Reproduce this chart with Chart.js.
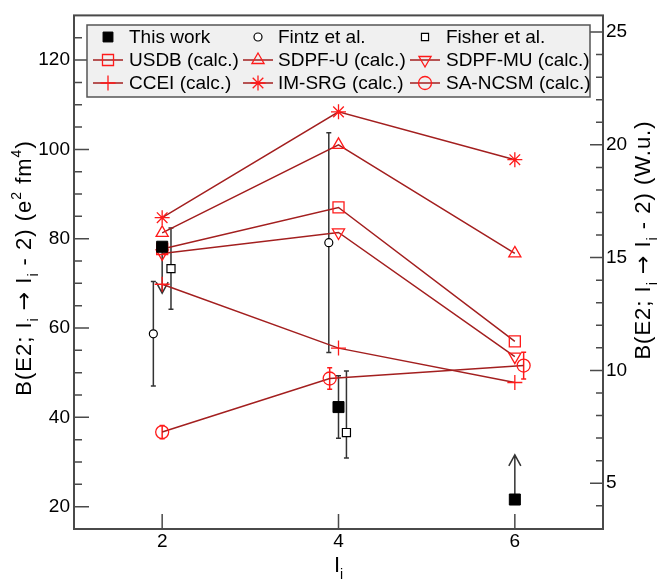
<!DOCTYPE html>
<html>
<head>
<meta charset="utf-8">
<script src="https://cdn.jsdelivr.net/npm/chart.js@4.4.0/dist/chart.umd.min.js"></script>
<style>
html, body { margin: 0; padding: 0; background: #fff; }
</style>
</head>
<body>
<canvas id="b2chart" width="658" height="580"></canvas>
<script>
// axis ticks
var spinTicks = [2, 4, 6];
var leftTicks = [20, 40, 60, 80, 100, 120];
var rightTicks = [5, 10, 15, 20, 25];
var wuFactor = 5.051; // 1 W.u. in e^2 fm^4 (A = 28)

// experiment, B(E2) in e^2 fm^4
var thisWorkX = [2, 4, 6];
var thisWorkY = [78.2, 42.3, 21.6];
var thisWorkErr = [0, 7.0, 0];
var thisWorkLimit = [67.8, null, 31.6]; // arrow tips for the limits

var fintzX = [1.9, 3.89];
var fintzY = [58.7, 79.1];
var fintzErr = [11.7, 24.6];

var fisherX = [2.1, 4.09];
var fisherY = [73.3, 36.6];
var fisherErrUp = [9.1, 13.8];
var fisherErrDown = [9.1, 5.7];

// calculations
var calcX = [2, 4, 6];
var usdbY = [77.7, 87.0, 57.0];
var sdpfuY = [81.3, 101.0, 76.7];
var sdpfmuY = [76.7, 81.4, 53.6];
var cceiY = [69.8, 55.5, 47.8];
var imsrgY = [84.7, 108.4, 97.7];
var sancsmX = [2, 3.9, 6.1];
var sancsmY = [36.7, 48.7, 51.6];
var sancsmErr = [1.5, 2.4, 3.0];

var FONT = "'Liberation Sans', Arial, sans-serif";
var lineRed = '#a31f1f';
var markRed = '#ff1a1a';

function pts(xs, ys) {
  return xs.map(function (x, i) { return { x: x, y: ys[i] }; });
}

function calcSet(label, ys, style, radius, rotation, xs) {
  return {
    label: label,
    data: pts(xs || calcX, ys),
    showLine: true,
    borderColor: lineRed,
    borderWidth: 1.5,
    pointStyle: style,
    pointRadius: radius,
    pointRotation: rotation || 0,
    pointBackgroundColor: 'rgba(0,0,0,0)',
    pointBorderColor: markRed,
    pointBorderWidth: 1.3
  };
}

var datasets = [
  {
    label: 'This work', data: pts(thisWorkX, thisWorkY), showLine: false,
    pointStyle: 'rect', pointRadius: 7.8, pointBackgroundColor: '#000',
    pointBorderColor: '#000', pointBorderWidth: 1,
    errUp: thisWorkErr, errDown: thisWorkErr, limitTo: thisWorkLimit, errColor: '#333'
  },
  {
    label: 'Fintz et al.', data: pts(fintzX, fintzY), showLine: false,
    pointStyle: 'circle', pointRadius: 4, pointBackgroundColor: '#fff',
    pointBorderColor: '#000', pointBorderWidth: 1.2,
    errUp: fintzErr, errDown: fintzErr, errColor: '#333'
  },
  {
    label: 'Fisher et al.', data: pts(fisherX, fisherY), showLine: false,
    pointStyle: 'rect', pointRadius: 5.7, pointBackgroundColor: '#fff',
    pointBorderColor: '#000', pointBorderWidth: 1.2,
    errUp: fisherErrUp, errDown: fisherErrDown, errColor: '#333'
  },
  calcSet('USDB (calc.)', usdbY, 'rect', 7.8),
  calcSet('SDPF-U (calc.)', sdpfuY, 'triangle', 7),
  calcSet('SDPF-MU (calc.)', sdpfmuY, 'triangle', 7, 180),
  calcSet('CCEI (calc.)', cceiY, 'cross', 7.5),
  calcSet('IM-SRG (calc.)', imsrgY, 'star', 7.5),
  calcSet('SA-NCSM (calc.)', sancsmY, 'circle', 6.5, 0, sancsmX)
];
datasets[8].errUp = sancsmErr;
datasets[8].errDown = sancsmErr;
datasets[8].errColor = markRed;

// error bars and limit arrows, drawn under the markers
var errorBars = {
  id: 'errorBars',
  beforeDatasetsDraw: function (chart) {
    var ctx = chart.ctx, xs = chart.scales.x, ys = chart.scales.y;
    chart.data.datasets.forEach(function (ds) {
      if (!ds.errUp && !ds.limitTo) return;
      ctx.save();
      ctx.strokeStyle = ds.errColor;
      ctx.lineWidth = 1.5;
      ds.data.forEach(function (p, i) {
        var px = xs.getPixelForValue(p.x);
        var py = ys.getPixelForValue(p.y);
        ctx.beginPath();
        if (ds.errUp && ds.errUp[i]) {
          var top = ys.getPixelForValue(p.y + ds.errUp[i]);
          var bot = ys.getPixelForValue(p.y - ds.errDown[i]);
          ctx.moveTo(px, top); ctx.lineTo(px, bot);
          ctx.moveTo(px - 2.5, top); ctx.lineTo(px + 2.5, top);
          ctx.moveTo(px - 2.5, bot); ctx.lineTo(px + 2.5, bot);
        }
        if (ds.limitTo && ds.limitTo[i] != null) {
          var tip = ys.getPixelForValue(ds.limitTo[i]);
          var back = tip > py ? -11 : 11;
          ctx.moveTo(px, py); ctx.lineTo(px, tip);
          ctx.moveTo(px - 6, tip + back); ctx.lineTo(px, tip); ctx.lineTo(px + 6, tip + back);
        }
        ctx.stroke();
      });
      ctx.restore();
    });
  }
};

// rich text: [text, 'sub' | 'sup' | '' | 'arrow']
function partFont(p, size) {
  if (p[1] === 'sub' || p[1] === 'sup') return Math.round(size * 0.65) + 'px ' + FONT;
  if (p[1] === 'arrow') return size + "px 'DejaVu Sans', sans-serif";
  return size + 'px ' + FONT;
}

function richWidth(ctx, parts, size) {
  var w = 0;
  parts.forEach(function (p) {
    ctx.font = partFont(p, size);
    w += ctx.measureText(p[0]).width;
  });
  return w;
}

function drawRich(ctx, parts, size, x, y) {
  parts.forEach(function (p) {
    var dy = p[1] === 'sub' ? size * 0.3 : (p[1] === 'sup' ? -size * 0.45 : 0);
    ctx.font = partFont(p, size);
    ctx.fillText(p[0], x, y + dy);
    x += ctx.measureText(p[0]).width;
  });
}

var frameAndText = {
  id: 'frameAndText',
  afterDraw: function (chart) {
    var ctx = chart.ctx, a = chart.chartArea;
    var xs = chart.scales.x, ys = chart.scales.y, y2 = chart.scales.y2;
    ctx.save();
    ctx.strokeStyle = '#4a4a4a';
    ctx.lineWidth = 2;
    ctx.strokeRect(a.left, a.top, a.right - a.left, a.bottom - a.top);

    // inward tick marks
    ctx.lineWidth = 1.5;
    ctx.beginPath();
    spinTicks.forEach(function (v) {
      var px = xs.getPixelForValue(v);
      ctx.moveTo(px, a.bottom); ctx.lineTo(px, a.bottom - 15);
    });
    for (var v = 20; v <= 125; v += 5) {
      var py = ys.getPixelForValue(v);
      ctx.moveTo(a.left, py); ctx.lineTo(a.left + (v % 20 === 0 ? 15 : 8), py);
    }
    for (var w = 4; w <= 25; w += 1) {
      var qy = y2.getPixelForValue(w);
      ctx.moveTo(a.right, qy); ctx.lineTo(a.right - (w % 5 === 0 ? 13 : 7), qy);
    }
    ctx.stroke();

    // legend
    var box = { x: 87, y: 25, w: 503, h: 72 };
    ctx.fillStyle = '#f0f0f0';
    ctx.fillRect(box.x, box.y, box.w, box.h);
    ctx.strokeStyle = '#555';
    ctx.lineWidth = 1.5;
    ctx.strokeRect(box.x, box.y, box.w, box.h);
    var rowY = [37, 60, 83];
    var markX = [108, 258, 425];
    var textX = [129, 278, 446];
    chart.data.datasets.forEach(function (ds, i) {
      var r = Math.floor(i / 3), c = i % 3;
      var mx = markX[c], my = rowY[r];
      if (ds.showLine) {
        ctx.strokeStyle = ds.borderColor;
        ctx.lineWidth = 1.5;
        ctx.beginPath();
        ctx.moveTo(mx - 15, my); ctx.lineTo(mx + 15, my);
        ctx.stroke();
      }
      ctx.fillStyle = ds.pointBackgroundColor;
      ctx.strokeStyle = ds.pointBorderColor;
      ctx.lineWidth = ds.pointBorderWidth;
      var rad = ds.showLine ? ds.pointRadius : Math.min(ds.pointRadius, 5);
      if (i === 0) rad = 7;
      Chart.helpers.drawPoint(ctx, {
        pointStyle: ds.pointStyle, rotation: ds.pointRotation || 0,
        radius: rad, borderWidth: ds.pointBorderWidth
      }, mx, my);
      ctx.fillStyle = '#000';
      ctx.font = '19px ' + FONT;
      ctx.textBaseline = 'middle';
      ctx.textAlign = 'left';
      ctx.fillText(ds.label, textX[c], my + 1);
    });

    // axis titles
    ctx.fillStyle = '#000';
    ctx.textBaseline = 'alphabetic';
    var tsize = 22;
    var leftParts = [['B(E2; I', ''], ['i', 'sub'], [' ', ''], ['\u2192', 'arrow'], [' I', ''], ['i', 'sub'],
      [' - 2) (e', ''], ['2', 'sup'], [' fm', ''], ['4', 'sup'], [')', '']];
    var rightParts = [['B(E2; I', ''], ['i', 'sub'], [' ', ''], ['\u2192', 'arrow'], [' I', ''], ['i', 'sub'],
      [' - 2) (W.u.)', '']];
    ctx.letterSpacing = '1px';
    var lw = richWidth(ctx, leftParts, tsize);
    ctx.save();
    ctx.translate(31, 268);
    ctx.rotate(-Math.PI / 2);
    drawRich(ctx, leftParts, tsize, -lw / 2, 0);
    ctx.restore();
    var rw = richWidth(ctx, rightParts, tsize);
    ctx.save();
    ctx.translate(650, 240);
    ctx.rotate(-Math.PI / 2);
    drawRich(ctx, rightParts, tsize, -rw / 2, 0);
    ctx.restore();
    ctx.letterSpacing = '0px';
    var bParts = [['I', ''], ['i', 'sub']];
    var bw = richWidth(ctx, bParts, tsize);
    drawRich(ctx, bParts, tsize, (a.left + a.right) / 2 - bw / 2, 572);
    ctx.restore();
  }
};

function fixedTicks(list) {
  return function (scale) {
    scale.ticks = list.map(function (v) { return { value: v }; });
  };
}

var tickFont = { family: FONT, size: 19 };

new Chart(document.getElementById('b2chart'), {
  type: 'scatter',
  data: { datasets: datasets },
  options: {
    responsive: false,
    animation: false,
    devicePixelRatio: 1,
    layout: { padding: { top: 13, left: 0, right: 0, bottom: 0 } },
    plugins: { legend: { display: false }, tooltip: { enabled: false } },
    scales: {
      x: {
        type: 'linear', min: 1, max: 7,
        afterBuildTicks: fixedTicks(spinTicks),
        afterFit: function (s) { s.height = 51; },
        grid: { display: false, drawTicks: false },
        border: { display: false },
        ticks: { font: tickFont, color: '#000', padding: 1, maxRotation: 0 }
      },
      y: {
        type: 'linear', position: 'left', min: 15, max: 130,
        afterBuildTicks: fixedTicks(leftTicks),
        afterFit: function (s) { s.width = 74; },
        grid: { display: false, drawTicks: false },
        border: { display: false },
        ticks: { font: tickFont, color: '#000', padding: 4 }
      },
      y2: {
        type: 'linear', position: 'right', min: 15 / wuFactor, max: 130 / wuFactor,
        afterBuildTicks: fixedTicks(rightTicks),
        afterFit: function (s) { s.width = 55; },
        grid: { display: false, drawTicks: false },
        border: { display: false },
        ticks: { font: tickFont, color: '#000', padding: 3 }
      }
    }
  },
  plugins: [errorBars, frameAndText]
});
</script>
</body>
</html>
